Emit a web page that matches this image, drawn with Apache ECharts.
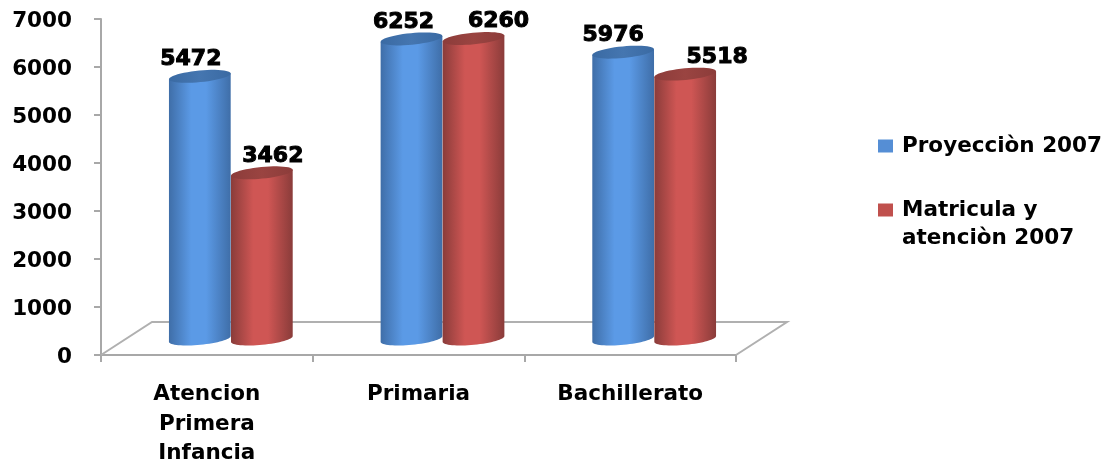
<!DOCTYPE html>
<html><head><meta charset="utf-8">
<style>html,body{margin:0;padding:0;background:#fff}#c{width:1106px;height:464px;filter:blur(0.5px)}</style>
<script src="https://cdn.jsdelivr.net/npm/echarts@6/dist/echarts.min.js"></script>
</head><body><div id="c"></div>
<script>
const categories = ['Atencion\nPrimera\nInfancia', 'Primaria', 'Bachillerato'];
const seriesNames = ['Proyecciòn 2007', 'Matricula y\natenciòn 2007'];
const proyeccion = [5472, 6252, 5976];
const matricula = [3462, 6260, 5518];
const yTicks = { min: 0, max: 7000, interval: 1000 };

// styling of the pseudo-3D look
const FONT = '"DejaVu Sans", sans-serif';
const DEPTH_X = 51, DEPTH_Y = 33;
const BAR_FRAC = 0.293, SHIFT_X = 24, SHIFT_Y = 16, RY = 5.8, TILT = -5.5 * Math.PI / 180;
const labelShift = [[-9, -8, -10], [11, 25, 32]];
const looks = [
  { legend: '#558ed5', edge: '#3f6ea8', mid: '#5b9ae6', capA: '#3a6aa3', capB: '#4576b0' },
  { legend: '#c0504d', edge: '#8a3c3a', mid: '#cf5654', capA: '#8c3c3a', capB: '#9a4441' }
];

function ellipsePoints(cx, cy, rx, ry, from, to, n) {
  const pts = [];
  for (let i = 0; i <= n; i++) {
    const t = from + (to - from) * i / n;
    const ex = rx * Math.cos(t), ey = ry * Math.sin(t);
    pts.push([cx + ex * Math.cos(TILT) - ey * Math.sin(TILT), cy + ex * Math.sin(TILT) + ey * Math.cos(TILT)]);
  }
  return pts;
}

function cylinder(sIdx) {
  const look = looks[sIdx];
  return function (params, api) {
    const cat = api.value(0), val = api.value(1);
    const top = api.coord([cat, val]), base = api.coord([cat, 0]);
    const w = api.size([1, 0])[0] * BAR_FRAC, rx = w / 2;
    const cx = top[0] + SHIFT_X + (sIdx === 0 ? -rx : rx);
    const yTop = top[1] - SHIFT_Y, yBase = base[1] - SHIFT_Y;
    const body = ellipsePoints(cx, yTop, rx, RY, Math.PI, Math.PI, 1).slice(0, 1)
      .concat(ellipsePoints(cx, yTop, rx, RY, 0, 0, 1).slice(0, 1))
      .concat(ellipsePoints(cx, yBase, rx, RY, 0, Math.PI, 32));
    const grad = new echarts.graphic.LinearGradient(0, 0, 1, 0, [
      { offset: 0, color: look.edge }, { offset: 0.36, color: look.mid },
      { offset: 0.6, color: look.mid }, { offset: 1, color: look.edge }
    ]);
    const capGrad = new echarts.graphic.LinearGradient(0, 0, 1, 0, [
      { offset: 0, color: look.capA }, { offset: 0.5, color: look.capB }, { offset: 1, color: look.capA }
    ]);
    return {
      type: 'group',
      children: [
        { type: 'polygon', shape: { points: body }, style: { fill: grad } },
        { type: 'polygon', shape: { points: ellipsePoints(cx, yTop, rx, RY, 0, Math.PI * 2, 48) }, style: { fill: capGrad } },
        { type: 'text', z2: 5, style: {
            text: String(val), x: cx + labelShift[sIdx][cat], y: yTop - 17,
            align: 'center', verticalAlign: 'middle',
            font: 'bold 22px ' + FONT, fill: '#000', stroke: '#000', lineWidth: 1 } }
      ]
    };
  };
}

function floor(params, api) {
  const r = params.coordSys;
  const b = r.y + r.height;
  return {
    type: 'polyline',
    shape: { points: [[r.x, b], [r.x + DEPTH_X, b - DEPTH_Y], [r.x + r.width + DEPTH_X, b - DEPTH_Y], [r.x + r.width, b]] },
    style: { fill: null, stroke: '#b0b0b0', lineWidth: 2 }
  };
}

function rows(values) { return values.map((v, i) => [i, v]); }

function legendText(name) {
  const lines = name.split('\n').map(l => '{b|' + l + '}');
  return (lines.length > 1 ? '{b| }\n' : '') + lines.join('\n');
}

const legendLabel = { fontFamily: FONT, fontWeight: 'bold', fontSize: 21.5, color: '#000', lineHeight: 28, padding: [0, 0, 0, 4] };

const chart = echarts.init(document.getElementById('c'), null, { renderer: 'canvas' });
chart.setOption({
  animation: false,
  backgroundColor: '#fff',
  grid: { left: 101, top: 19, width: 635, height: 336, outerBoundsMode: 'none' },
  legend: {
    left: 878, top: 135, padding: 0, orient: 'vertical', icon: 'rect', itemWidth: 15, itemHeight: 13,
    itemGap: 14, selectedMode: false, align: 'left',
    formatter: legendText,
    textStyle: { rich: { b: legendLabel } },
    data: seriesNames
  },
  xAxis: {
    type: 'category', data: categories,
    axisLine: { lineStyle: { color: '#a8a8a8', width: 2 } },
    axisTick: { show: true, alignWithLabel: false, length: 7, lineStyle: { color: '#a8a8a8', width: 2 } },
    axisLabel: { fontFamily: FONT, fontWeight: 'bold', fontSize: 21.5, color: '#000', lineHeight: 29.5, margin: 25, interval: 0 }
  },
  yAxis: {
    type: 'value', min: yTicks.min, max: yTicks.max, interval: yTicks.interval,
    splitLine: { show: false },
    axisLine: { show: true, lineStyle: { color: '#a8a8a8', width: 2 } },
    axisTick: { show: true, length: 7, lineStyle: { color: '#a8a8a8', width: 2 } },
    axisLabel: { fontFamily: FONT, fontWeight: 'bold', fontSize: 21.5, color: '#000', margin: 29,
      formatter: v => '{t|' + v + '}',
      rich: { t: { fontFamily: FONT, fontWeight: 'bold', fontSize: 21.5, color: '#000', padding: [5, 0, 0, 0] } } }
  },
  series: [
    { type: 'custom', silent: true, renderItem: floor, data: [[0, 0]], encode: { x: 0, y: 1 }, z: 1 },
    { type: 'custom', name: seriesNames[0], renderItem: cylinder(0), data: rows(proyeccion), encode: { x: 0, y: 1 }, itemStyle: { color: looks[0].legend }, z: 2 },
    { type: 'custom', name: seriesNames[1], renderItem: cylinder(1), data: rows(matricula), encode: { x: 0, y: 1 }, itemStyle: { color: looks[1].legend }, z: 3 }
  ]
});
</script></body></html>
